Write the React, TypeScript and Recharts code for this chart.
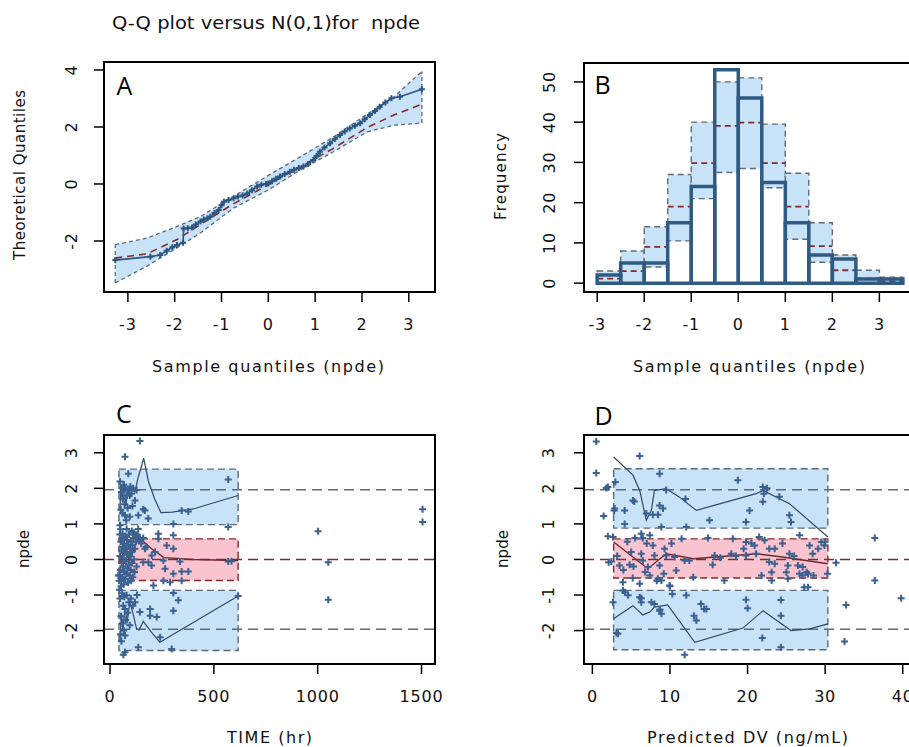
import React from "react";
import {
  Area,
  ComposedChart,
  Line,
  ReferenceArea,
  ReferenceLine,
  Scatter,
  XAxis,
  YAxis,
} from "recharts";

const FONT = "'DejaVu Sans', Verdana, sans-serif";
const LETTER_FONT = "'Open Sans', Calibri, sans-serif";
const BLUE_FILL = "#c8e2f8";
const PINK_FILL = "#f9c4cf";
const GREY = "#5b6b7a";
const RED = "#842a2a";
const OBS = "#2d5680";
const PCT = "#2f4a66";
const DOT = "#3a6190";
const BAR = "#2f5b83";

// ---- panel A : QQ plot ----
const qqX = [-3.27, -2.59, -1.95, -1.45, -0.75, 0, 0.68, 1.39, 2.11, 2.68, 3.28];
const qqLower = [-3.47, -2.88, -2.24, -1.72, -0.85, -0.21, 0.49, 1.13, 1.83, 2.06, 2.14];
const qqUpper = [-2.13, -1.9, -1.49, -1.14, -0.44, 0.3, 0.95, 1.65, 2.45, 3.05, 3.95];
const qqMedian = [-2.6, -2.45, -1.95, -1.42, -0.7, -0.03, 0.6, 1.25, 1.98, 2.42, 2.8];
const qqObsX = [-3.27, -2.52, -2.31, -2.17, -2.05, -1.95, -1.82, -1.81, -1.72, -1.63, -1.55, -1.45, -1.38, -1.3, -1.24, -1.15, -1.06, -1.0, -0.95, -0.85, -0.74, -0.65, -0.55, -0.45, -0.35, -0.24, -0.15, -0.05, 0.0, 0.08, 0.16, 0.25, 0.35, 0.46, 0.55, 0.65, 0.75, 0.85, 0.96, 1.03, 1.1, 1.2, 1.32, 1.42, 1.53, 1.63, 1.74, 1.85, 1.96, 2.06, 2.17, 2.28, 2.38, 2.5, 2.63, 2.81, 3.28];
const qqObsY = [-2.67, -2.55, -2.49, -2.34, -2.22, -2.14, -2.06, -1.56, -1.55, -1.53, -1.42, -1.32, -1.25, -1.2, -1.15, -1.02, -0.91, -0.75, -0.62, -0.56, -0.5, -0.44, -0.4, -0.33, -0.22, -0.09, -0.03, 0.0, 0.02, 0.1, 0.18, 0.26, 0.35, 0.43, 0.5, 0.56, 0.61, 0.7, 0.84, 0.98, 1.13, 1.28, 1.43, 1.58, 1.72, 1.84, 1.95, 2.04, 2.13, 2.27, 2.42, 2.56, 2.71, 2.86, 3.01, 3.06, 3.32];

// ---- panel B : histogram ----
const BIN = 0.5;
const binStart = [-3, -2.5, -2, -1.5, -1, -0.5, 0, 0.5, 1, 1.5, 2, 2.5, 3];
const histObs = [2, 5, 5, 15, 24, 53, 46, 25, 15, 7, 6, 1, 1];
const histLow = [0, 0, 4, 10.5, 21, 27.5, 28.5, 23.7, 10.9, 5.2, 0, 0, 0];
const histHigh = [3, 8, 14, 27, 40, 50, 51, 39.5, 27.3, 15, 7, 3.2, 1.5];
const histMed = [1.1, 3, 9, 19, 29.8, 39.1, 39.9, 29.8, 19, 9.2, 3.2, 1.1, 0.5];

// ---- panel C : npde vs time ----
const cBandX = [43, 617];
const cBandLo = [0.98, -0.59, -2.56];
const cBandHi = [2.54, 0.58, -0.87];
const cUpperX = [48, 52, 60, 68, 76, 85, 95, 105, 120, 135, 148, 162, 185, 215, 245, 300, 400, 617];
const cUpperY = [1.4, 2.1, 1.6, 2.2, 1.5, 2.0, 1.7, 2.0, 1.9, 2.3, 2.55, 2.85, 2.2, 1.7, 1.32, 1.33, 1.42, 1.8];
const cLowerX = [48, 55, 62, 72, 82, 95, 110, 128, 140, 160, 200, 240, 617];
const cLowerY = [-2.3, -1.5, -2.0, -1.3, -1.8, -1.2, -1.5, -1.95, -1.98, -1.74, -2.05, -2.33, -1.03];
const cMedX = [45, 70, 95, 115, 136, 200, 260, 400, 617];
const cMedY = [-0.1, 0.25, -0.05, 0.3, 0.63, 0.3, 0.05, 0.0, -0.03];
const cPts: [number, number][] = [
  [46, -0.45], [48, 0.1], [50, -0.3], [52, 0.5], [54, -0.6], [55, 0.25], [57, -0.1], [58, 0.6], [60, -0.5], [62, 0.35],
  [63, -0.2], [65, 0.05], [66, -0.7], [68, 0.45], [70, -0.35], [72, 0.2], [74, -0.55], [75, 0.65], [77, -0.05], [79, 0.3],
  [80, -0.4], [82, 0.55], [84, -0.25], [85, 0.15], [87, -0.65], [88, 0.4], [90, -0.15], [92, 0.7], [94, -0.45], [95, 0.1],
  [97, 0.3], [99, -0.3], [100, 0.5], [102, -0.6], [104, 0.2], [106, -0.1], [108, 0.4], [110, -0.5], [112, 0.6], [115, 0.0],
  [118, -0.35], [120, 0.3], [124, 0.5], [128, -0.2], [132, 0.7], [40, -0.45], [44, -0.6], [47, 0.7], [53, -0.75], [61, 0.72],
  [45, -0.85], [50, 0.85], [105, 0.8], [115, 0.75], [125, 0.65], [140, 0.55], [150, 0.45], [160, 0.6], [175, 0.35],
  [48, 2.19], [52, 1.4], [55, 1.9], [58, 2.0], [60, 1.3], [63, 1.71], [66, 2.1], [70, 1.55], [72, 1.24], [75, 2.0],
  [78, 1.1], [80, 0.86], [82, 1.8], [85, 1.45], [88, 2.41], [92, 1.95], [95, 1.2], [98, 2.05], [104, 1.85], [108, 1.5],
  [112, 2.0], [120, 1.66], [128, 1.95], [136, 1.24], [136, 0.86], [144, 0.58], [48, 0.96], [120, 0.68], [72, 2.89], [144, 3.33],
  [168, 1.38], [184, 1.15], [160, 1.41],
  [48, -1.1], [50, -2.1], [52, -1.6], [55, -2.3], [58, -0.95], [60, -1.8], [63, -1.3], [66, -2.0], [68, -1.05], [72, -1.39],
  [72, -2.14], [72, -2.61], [75, -1.7], [80, -1.01], [85, -1.5], [90, -1.2], [95, -1.85], [100, -1.1], [110, -1.3], [120, -1.2],
  [130, -1.0], [136, -2.47], [144, -1.48], [64, -2.68],
  [193, -1.58], [225, -1.62], [305, -1.44], [297, -2.52], [193, -1.39], [241, -2.19], [305, 1.0], [345, 1.38], [377, 1.35], [305, 0.3],
  [305, -0.4], [337, -0.06], [345, -0.34], [377, -0.34], [345, -0.6], [257, -0.6], [289, -0.64], [209, -0.73], [305, -0.94], [329, -1.15],
  [305, 0.68], [233, 0.72], [201, 0.11], [273, 0.39], [160, -0.08], [185, -0.08], [217, 0.21], [168, 0.3], [257, -0.03], [200, -0.17],
  [265, -0.26], [233, 0.58],
  [569, 2.25], [569, 0.91], [569, -0.06], [585, -0.05], [617, -1.03], [1002, 0.79], [1051, -0.08], [1051, -1.13], [1505, 1.41], [1505, 1.05],
];

// ---- panel D : npde vs predicted DV ----
const dBandX = [2.74, 30.35];
const dBandLo = [0.88, -0.52, -2.54];
const dBandHi = [2.55, 0.58, -0.87];
const dUpperX = [2.74, 5.23, 6.1, 6.95, 7.6, 8.0, 9.5, 11.2, 13.4, 21.1, 22.0, 25.4, 30.35];
const dUpperY = [2.88, 2.37, 1.94, 1.1, 1.38, 1.94, 1.99, 1.76, 1.38, 1.85, 1.94, 1.57, 0.63];
const dLowerX = [2.74, 5.23, 6.5, 7.4, 8.0, 9.7, 13.2, 19.4, 22.0, 25.6, 28.0, 30.35];
const dLowerY = [-1.67, -1.3, -1.56, -1.48, -1.34, -1.28, -2.33, -1.93, -1.44, -2.0, -1.95, -1.81];
const dMedX = [2.74, 7.16, 9.5, 13.0, 21.1, 24.5, 30.35];
const dMedY = [0.49, -0.26, 0.16, 0.02, 0.16, 0.07, -0.12];
const dPts: [number, number][] = [
  [0.5, 3.32], [0.5, 2.43], [1.45, 1.22], [1.8, 2.01], [2.0, 0.65], [2.1, -0.08], [2.0, 2.04], [2.95, 2.18], [2.8, 1.38], [2.87, 1.43],
  [4.16, 1.38], [5.4, 1.63], [5.23, 1.66], [6.09, 2.91], [8.67, 2.41], [18.75, 2.23], [8.67, 1.52], [9.1, 1.43], [6.95, 1.29], [7.8, 1.26],
  [8.45, 1.26], [4.16, 1.0], [20.26, 1.38], [15.1, 1.1], [19.8, 1.05],
  [2.66, 0.63], [6.3, 0.72], [7.4, 0.68], [8.9, 0.91], [12.1, 0.91], [11.5, 0.58], [14.9, 0.6], [18.1, 0.58], [19.8, 0.49], [7.8, 0.39],
  [9.3, 0.3], [6.3, 0.16], [8.0, 0.11], [9.5, 0.11], [5.0, 0.21], [10.6, 0.07], [11.9, -0.03], [12.5, -0.03], [15.75, 0.11], [17.9, 0.16],
  [19.8, 0.11], [21.1, 0.16], [2.45, -0.06], [3.5, -0.17], [4.8, -0.15], [6.5, -0.03], [7.16, -0.21], [8.67, -0.17], [15.5, -0.15], [17.0, -0.59],
  [3.94, -0.64], [5.2, -0.52], [6.1, -0.68], [7.4, -0.45], [8.45, -0.54], [8.9, -0.59], [9.95, -0.73], [10.8, -0.31],
  [3.94, -0.87], [4.6, -1.01], [6.1, -1.06], [6.3, -1.2], [8.0, -1.25], [8.67, -1.44], [8.9, -1.53], [12.1, -1.01], [14.0, -1.25], [14.7, -1.39],
  [13.4, -1.72], [3.3, -2.09], [11.9, -2.68], [2.66, -1.2],
  [21.97, 2.04], [21.97, 1.62], [24.1, 1.76], [25.4, 1.24], [25.6, 1.05], [36.4, 0.6], [36.4, -0.59], [39.8, -1.09], [32.7, -1.28], [32.5, -2.31],
  [31.4, -0.09], [24.3, -1.14], [24.3, -1.58], [21.9, -2.21], [24.3, -2.47], [19.8, -1.13], [20.0, -1.37], [13.1, -1.58], [14.4, -1.39],
  [21.5, 0.63], [22.2, 0.54], [20.9, 0.39], [22.8, 0.3], [25.4, 0.16], [26.7, 0.68], [28.0, 0.39], [29.1, 0.3], [29.5, 0.49], [29.9, 0.39],
  [28.4, 0.16], [22.8, -0.07], [23.5, -0.12], [25.2, -0.17], [26.5, -0.17], [27.1, -0.21], [23.1, -0.36], [21.8, -0.45], [25.0, -0.36], [26.7, -0.4],
  [27.6, -0.36], [27.1, -0.45], [27.8, -0.4], [30.3, -0.4], [23.1, -0.59], [25.2, -0.54], [27.3, -0.78], [27.8, -0.78],
  [3.1, -2.07], [4.2, -0.92], [6.3, -1.09], [7.6, -1.2], [8.7, -1.41], [10.0, -0.75], [10.3, -0.97], [5.5, 0.6], [4.5, 0.5], [3.2, 0.1],
  [4.0, -0.3], [5.3, -0.2], [6.8, -0.35], [8.3, -0.6], [9.2, -0.4], [10.2, 0.45], [13.0, -0.5], [16.5, 0.05], [18.5, 0.1], [19.5, 0.3],
  [20.5, 0.45], [23.5, 0.3], [24.5, 0.45], [26, 0.1], [28.5, -0.45], [30, 0.5], [22.5, 2.0], [22.1, 1.85], [9.5, 1.95], [12.0, 1.7],
  [6.5, 0.6], [7.0, 0.45],
];

const NPDE_TICKS = [-2, -1, 0, 1, 2, 3];
const PI_LIMIT = 1.96;

const zip = (xs: number[], ys: number[]) => xs.map((x, i) => ({ x, y: ys[i] }));
const pairs = (pts: [number, number][]) => pts.map(([x, y]) => ({ x, y }));

function XTickLabel(props: any) {
  const { x, y, payload } = props;
  return (
    <text x={x} y={y + 26} textAnchor="middle" fontFamily={FONT} fontSize={16} letterSpacing={0.8} fill="#111">
      {String(payload.value)}
    </text>
  );
}

// R style: y tick labels read bottom to top
const yTickLabel = (dx: number) => (props: any) => {
  const { x, y, payload } = props;
  return (
    <g transform={`translate(${x - dx},${y}) rotate(-90)`}>
      <text x={0} y={0} textAnchor="middle" fontFamily={FONT} fontSize={16} letterSpacing={0.8} fill="#111">
        {String(payload.value)}
      </text>
    </g>
  );
};

const plus = (color: string, r: number) => (p: any) => (
  <path
    key={p.index}
    d={`M${p.cx - r},${p.cy}h${2 * r}M${p.cx},${p.cy - r}v${2 * r}`}
    stroke={color}
    strokeWidth={2}
    fill="none"
  />
);

const tickLine = { stroke: "#000", strokeWidth: 1.5 };

function panelAxes(xDomain: number[], xTicks: number[], yDomain: number[], yTicks: number[], yW: number, xH: number, yDx: number) {
  return [
    <XAxis
      key="x"
      type="number"
      dataKey="x"
      domain={xDomain}
      ticks={xTicks}
      allowDataOverflow
      interval={0}
      height={xH}
      axisLine={false}
      tickLine={tickLine}
      tickSize={10}
      tick={XTickLabel}
    />,
    <YAxis
      key="y"
      type="number"
      dataKey="y"
      domain={yDomain}
      ticks={yTicks}
      allowDataOverflow
      interval={0}
      width={yW}
      axisLine={false}
      tickLine={tickLine}
      tickSize={10}
      tick={yTickLabel(yDx)}
    />,
  ];
}

function frame(xDomain: number[], yDomain: number[]) {
  return (
    <ReferenceArea
      x1={xDomain[0]}
      x2={xDomain[1]}
      y1={yDomain[0]}
      y2={yDomain[1]}
      fill="none"
      stroke="#000"
      strokeWidth={2}
      ifOverflow="visible"
      zIndex={900}
    />
  );
}

function PanelA() {
  const xD = [-3.51, 3.56];
  const yD = [-3.79, 4.28];
  const band = qqX.map((x, i) => ({ x, range: [qqLower[i], qqUpper[i]] }));
  const last = qqX.length - 1;
  return (
    <ComposedChart width={450} height={380} margin={{ top: 62, right: 15, left: 0, bottom: 0 }}>
      {panelAxes(xD, [-3, -2, -1, 0, 1, 2, 3], yD, [-2, 0, 2, 4], 104, 88, 15)}
      <Area data={band} dataKey="range" type="linear" fill={BLUE_FILL} fillOpacity={1} stroke="none" isAnimationActive={false} />
      <Line data={zip(qqX, qqLower)} dataKey="y" type="linear" stroke={GREY} strokeWidth={1.3} strokeDasharray="4 3" dot={false} activeDot={false} isAnimationActive={false} />
      <Line data={zip(qqX, qqUpper)} dataKey="y" type="linear" stroke={GREY} strokeWidth={1.3} strokeDasharray="4 3" dot={false} activeDot={false} isAnimationActive={false} />
      <ReferenceLine segment={[{ x: qqX[0], y: qqLower[0] }, { x: qqX[0], y: qqUpper[0] }]} stroke={GREY} strokeWidth={1.3} strokeDasharray="4 3" ifOverflow="visible" />
      <ReferenceLine segment={[{ x: qqX[last], y: qqLower[last] }, { x: qqX[last], y: qqUpper[last] }]} stroke={GREY} strokeWidth={1.3} strokeDasharray="4 3" ifOverflow="visible" />
      <Line data={zip(qqX, qqMedian)} dataKey="y" type="linear" stroke={RED} strokeWidth={1.6} strokeDasharray="7 5" dot={false} activeDot={false} isAnimationActive={false} />
      <Line data={zip(qqObsX, qqObsY)} dataKey="y" type="linear" stroke={OBS} strokeWidth={1.6} dot={plus(OBS, 3)} activeDot={false} isAnimationActive={false} />
      {frame(xD, yD)}
    </ComposedChart>
  );
}

function PanelB() {
  const xD = [-3.28, 3.8];
  const yD = [-2.2, 54.7];
  return (
    <ComposedChart width={500} height={380} margin={{ top: 63, right: 33, left: 0, bottom: 0 }}>
      {panelAxes(xD, [-3, -2, -1, 0, 1, 2, 3], yD, [0, 10, 20, 30, 40, 50], 134, 88, 17.5)}
      {binStart.map((b, i) => (
        <ReferenceArea key={`pi${i}`} x1={b} x2={b + BIN} y1={histLow[i]} y2={histHigh[i]} fill={BLUE_FILL} fillOpacity={1} stroke={GREY} strokeWidth={1.4} strokeDasharray="6 4" ifOverflow="visible" zIndex={100} />
      ))}
      {binStart.map((b, i) => (
        <ReferenceLine key={`md${i}`} segment={[{ x: b, y: histMed[i] }, { x: b + BIN, y: histMed[i] }]} stroke={RED} strokeWidth={1.8} strokeDasharray="6 4" ifOverflow="visible" zIndex={200} />
      ))}
      {binStart.map((b, i) => (
        <ReferenceArea key={`ob${i}`} x1={b} x2={b + BIN} y1={0} y2={histObs[i]} fill="none" stroke={BAR} strokeWidth={3.5} ifOverflow="visible" zIndex={300} />
      ))}
      {frame(xD, yD)}
    </ComposedChart>
  );
}

function NpdePanel({ xD, xTicks, bandX, bandLo, bandHi, upX, upY, loX, loY, mdX, mdY, pts, yW, right, yDx }: any) {
  const yD = [-2.94, 3.5];
  return (
    <ComposedChart width={yW === 104 ? 450 : 500} height={357} margin={{ top: 45, right, left: 0, bottom: 0 }}>
      {panelAxes(xD, xTicks, yD, NPDE_TICKS, yW, 83, yDx)}
      {bandLo.map((lo: number, i: number) => (
        <ReferenceArea key={`b${i}`} x1={bandX[0]} x2={bandX[1]} y1={lo} y2={bandHi[i]} fill={i === 1 ? PINK_FILL : BLUE_FILL} fillOpacity={1} stroke={i === 1 ? RED : GREY} strokeWidth={1.4} strokeDasharray="7 4" ifOverflow="visible" zIndex={100} />
      ))}
      <ReferenceLine y={PI_LIMIT} stroke={GREY} strokeWidth={1.5} strokeDasharray="10 6" zIndex={200} />
      <ReferenceLine y={-PI_LIMIT} stroke={GREY} strokeWidth={1.5} strokeDasharray="10 6" zIndex={200} />
      <ReferenceLine y={0} stroke={RED} strokeWidth={1.5} strokeDasharray="10 6" zIndex={200} />
      <Line data={zip(upX, upY)} dataKey="y" type="linear" stroke={PCT} strokeWidth={1.2} dot={false} activeDot={false} isAnimationActive={false} />
      <Line data={zip(loX, loY)} dataKey="y" type="linear" stroke={PCT} strokeWidth={1.2} dot={false} activeDot={false} isAnimationActive={false} />
      <Line data={zip(mdX, mdY)} dataKey="y" type="linear" stroke="#6a2a33" strokeWidth={1.4} dot={false} activeDot={false} isAnimationActive={false} />
      <Scatter data={pairs(pts)} dataKey="y" shape={plus(DOT, 3.5)} isAnimationActive={false} />
      {frame(xD, yD)}
    </ComposedChart>
  );
}

const textBase = { fontFamily: FONT, fill: "#111" } as const;

function Overlay() {
  return (
    <svg width={909} height={747} style={{ position: "absolute", left: 0, top: 0, pointerEvents: "none" }}>
      <text x={112} y={28.5} fontSize={17} textLength={308} lengthAdjust="spacingAndGlyphs" style={{ whiteSpace: "pre" }} {...textBase}>
        Q-Q plot versus N(0,1)for  npde
      </text>
      <text x={116.5} y={95} fontSize={25} fontFamily={LETTER_FONT} fill="#000">A</text>
      <text x={594.5} y={93.5} fontSize={25} fontFamily={LETTER_FONT} fill="#000">B</text>
      <text x={116} y={422.5} fontSize={25} fontFamily={LETTER_FONT} fill="#000">C</text>
      <text x={594.5} y={425} fontSize={25} fontFamily={LETTER_FONT} fill="#000">D</text>

      <text x={152} y={372} fontSize={16} textLength={232} {...textBase}>Sample quantiles (npde)</text>
      <text x={633} y={372} fontSize={16} textLength={232} {...textBase}>Sample quantiles (npde)</text>
      <text x={227} y={743} fontSize={16} textLength={85} {...textBase}>TIME (hr)</text>
      <text x={647} y={743} fontSize={16} textLength={201} {...textBase}>Predicted DV (ng/mL)</text>

      <text x={25} y={260} transform="rotate(-90 25 260)" fontSize={15} textLength={170} {...textBase}>Theoretical Quantiles</text>
      <text x={506} y={220} transform="rotate(-90 506 220)" fontSize={15} textLength={87} {...textBase}>Frequency</text>
      <text x={28.5} y={568} transform="rotate(-90 28.5 568)" fontSize={15} textLength={38} {...textBase}>npde</text>
      <text x={507.5} y={568} transform="rotate(-90 507.5 568)" fontSize={15} textLength={38} {...textBase}>npde</text>
    </svg>
  );
}

export default function App() {
  return (
    <div style={{ position: "fixed", left: 0, top: 0, width: 909, height: 747, overflow: "hidden", background: "#fff" }}>
      <div style={{ position: "absolute", left: 0, top: 0 }}>
        <PanelA />
      </div>
      <div style={{ position: "absolute", left: 450, top: 0 }}>
        <PanelB />
      </div>
      <div style={{ position: "absolute", left: 0, top: 390 }}>
        <NpdePanel
          xD={[-29, 1565]}
          xTicks={[0, 500, 1000, 1500]}
          bandX={cBandX}
          bandLo={cBandLo}
          bandHi={cBandHi}
          upX={cUpperX}
          upY={cUpperY}
          loX={cLowerX}
          loY={cLowerY}
          mdX={cMedX}
          mdY={cMedY}
          pts={cPts}
          yW={104}
          right={15}
          yDx={15}
        />
      </div>
      <div style={{ position: "absolute", left: 450, top: 390 }}>
        <NpdePanel
          xD={[-1.08, 43]}
          xTicks={[0, 10, 20, 30, 40]}
          bandX={dBandX}
          bandLo={dBandLo}
          bandHi={dBandHi}
          upX={dUpperX}
          upY={dUpperY}
          loX={dLowerX}
          loY={dLowerY}
          mdX={dMedX}
          mdY={dMedY}
          pts={dPts}
          yW={134}
          right={24}
          yDx={18}
        />
      </div>
      <Overlay />
    </div>
  );
}
